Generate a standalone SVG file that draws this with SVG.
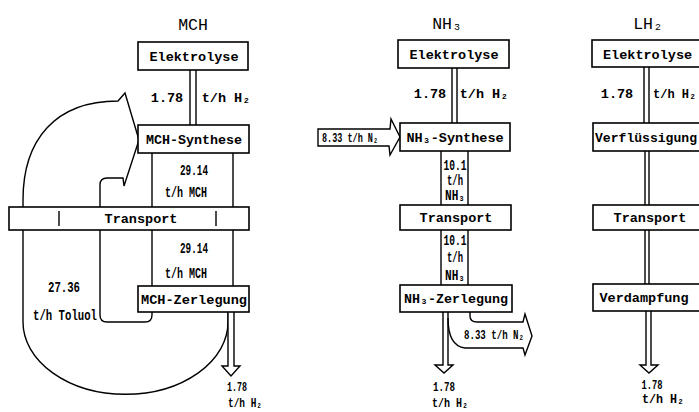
<svg xmlns="http://www.w3.org/2000/svg" width="699" height="412" viewBox="0 0 699 412">
<defs>
<style>
.box{fill:#fff;stroke:#000;stroke-width:1.6}
.ln{fill:none;stroke:#000;stroke-width:1.4}
.fl{fill:#fff;stroke:#000;stroke-width:1.4}
text{font-family:"Liberation Mono","DejaVu Sans Mono",monospace;fill:#000}
.t{font-size:13.5px;font-weight:bold;text-anchor:middle}
.ttl{font-size:16.5px;text-anchor:middle}
.s{font-size:14px;font-weight:bold;text-anchor:middle}
.b{font-size:12.5px;font-weight:bold;text-anchor:middle}
</style>
</defs>
<rect width="699" height="412" fill="#fff"/>
<g id="connectors">
  <!-- MCH -->
  <line class="ln" x1="190" y1="70" x2="190" y2="125"/>
  <line class="ln" x1="196" y1="70" x2="196" y2="125"/>
  <line class="ln" x1="152" y1="153" x2="152" y2="286"/>
  <line class="ln" x1="233" y1="153" x2="233" y2="286"/>
  <path class="ln" d="M228,312 L228,322 A102 72 0 0 1 23,322 L23,200 C23,140 55,101 118,101 L125,93 L139,140 L124,186 L123,178 L107,178 Q100,178 100,185 L100,315 Q100,322 107,322 L145,322 Q152,322 152,315 L152,312"/>
  <path class="fl" d="M228,312 L228,366 L222,366 L231,376 L240,366 L234,366 L234,312"/>
  <!-- NH3 -->
  <line class="ln" x1="452" y1="68" x2="452" y2="123"/>
  <line class="ln" x1="457" y1="68" x2="457" y2="123"/>
  <line class="ln" x1="441" y1="151" x2="441" y2="285"/>
  <line class="ln" x1="468" y1="151" x2="468" y2="285"/>
  <path class="fl" d="M318,129 L390,129 L391,119 L400,137 L390,155 L389,146 L318,146 Z"/>
  <path class="fl" d="M443,312 L443,365 L435,365 L444,373 L453,365 L448,365 L448,312"/>
  <path class="ln" d="M470,312 L470,316 Q470,322 477,322 L523,322 L525,314 L532,336 L525,355 L523,348 L465,348 Q448,346 448,318"/>
  <!-- LH2 -->
  <line class="ln" x1="644" y1="67" x2="644" y2="123"/>
  <line class="ln" x1="649" y1="67" x2="649" y2="123"/>
  <line class="ln" x1="645" y1="151" x2="645" y2="205"/>
  <line class="ln" x1="649" y1="151" x2="649" y2="205"/>
  <line class="ln" x1="645" y1="230" x2="645" y2="284"/>
  <line class="ln" x1="649" y1="230" x2="649" y2="284"/>
  <path class="fl" d="M646,311 L646,365 L640,365 L649,373 L658,365 L651,365 L651,311"/>
</g>
<g id="mch-title"><text class="ttl" x="193" y="30">MCH</text></g>
<g id="mch-elektrolyse">
  <rect class="box" x="138" y="42" width="110" height="28"/>
  <text class="t" x="194" y="61">Elektrolyse</text>
</g>
<g id="mch-synthese">
  <rect class="box" x="138" y="125" width="111" height="28"/>
  <text class="t" x="194" y="144" textLength="96" lengthAdjust="spacingAndGlyphs">MCH-Synthese</text>
</g>
<g id="mch-transport">
  <rect class="box" x="9" y="207" width="240" height="23"/>
  <line class="ln" x1="59" y1="211" x2="59" y2="226"/>
  <line class="ln" x1="216" y1="211" x2="216" y2="226"/>
  <text class="t" x="141" y="223">Transport</text>
</g>
<g id="mch-zerlegung">
  <rect class="box" x="138" y="286" width="111" height="26"/>
  <text class="t" x="194" y="304" textLength="106" lengthAdjust="spacingAndGlyphs">MCH-Zerlegung</text>
</g>
<g id="mch-labels">
  <text class="t" x="167" y="102">1.78</text>
  <text class="t" x="226" y="102">t/h H₂</text>
  <text class="s" x="194" y="175" textLength="28" lengthAdjust="spacingAndGlyphs">29.14</text>
  <text class="s" x="186" y="197" textLength="42" lengthAdjust="spacingAndGlyphs">t/h MCH</text>
  <text class="s" x="194" y="253" textLength="28" lengthAdjust="spacingAndGlyphs">29.14</text>
  <text class="s" x="186" y="278" textLength="42" lengthAdjust="spacingAndGlyphs">t/h MCH</text>
  <text class="s" x="64" y="292" textLength="32" lengthAdjust="spacingAndGlyphs">27.36</text>
  <text class="s" x="65" y="320" textLength="64" lengthAdjust="spacingAndGlyphs">t/h Toluol</text>
  <text class="b" x="237" y="391" textLength="20" lengthAdjust="spacingAndGlyphs">1.78</text>
  <text class="b" x="245" y="407" textLength="34" lengthAdjust="spacingAndGlyphs">t/h H₂</text>
</g>
<g id="nh3-title"><text class="ttl" x="447" y="29">NH₃</text></g>
<g id="nh3-elektrolyse">
  <rect class="box" x="398" y="40" width="111" height="28"/>
  <text class="t" x="454" y="59">Elektrolyse</text>
</g>
<g id="nh3-synthese">
  <rect class="box" x="400" y="123" width="110" height="28"/>
  <text class="t" x="455" y="142">NH₃-Synthese</text>
</g>
<g id="nh3-transport">
  <rect class="box" x="400" y="205" width="111" height="25"/>
  <text class="t" x="456" y="222">Transport</text>
</g>
<g id="nh3-zerlegung">
  <rect class="box" x="400" y="285" width="112" height="27"/>
  <text class="t" x="456" y="303" textLength="104" lengthAdjust="spacingAndGlyphs">NH₃-Zerlegung</text>
</g>
<g id="nh3-labels">
  <text class="t" x="430" y="98">1.78</text>
  <text class="t" x="484" y="98">t/h H₂</text>
  <text class="b" x="350" y="142" textLength="56" lengthAdjust="spacingAndGlyphs">8.33 t/h N₂</text>
  <text class="s" x="455" y="170" textLength="23" lengthAdjust="spacingAndGlyphs">10.1</text>
  <text class="s" x="455" y="185" textLength="16" lengthAdjust="spacingAndGlyphs">t/h</text>
  <text class="s" x="455" y="200" textLength="20" lengthAdjust="spacingAndGlyphs">NH₃</text>
  <text class="s" x="455" y="245" textLength="23" lengthAdjust="spacingAndGlyphs">10.1</text>
  <text class="s" x="455" y="262" textLength="16" lengthAdjust="spacingAndGlyphs">t/h</text>
  <text class="s" x="455" y="280" textLength="20" lengthAdjust="spacingAndGlyphs">NH₃</text>
  <text class="b" x="494" y="339" textLength="60" lengthAdjust="spacingAndGlyphs">8.33 t/h N₂</text>
  <text class="b" x="444" y="391" textLength="22" lengthAdjust="spacingAndGlyphs">1.78</text>
  <text class="b" x="450" y="407" textLength="36" lengthAdjust="spacingAndGlyphs">t/h H₂</text>
</g>
<g id="lh2-title"><text class="ttl" x="648" y="29">LH₂</text></g>
<g id="lh2-elektrolyse">
  <rect class="box" x="592" y="40" width="115" height="27"/>
  <text class="t" x="603" y="58.5" style="text-anchor:start">Elektrolyse</text>
</g>
<g id="lh2-verfluessigung">
  <rect class="box" x="593" y="123" width="115" height="28"/>
  <text class="t" x="595" y="141.5" style="text-anchor:start" textLength="102" lengthAdjust="spacingAndGlyphs">Verflüssigung</text>
</g>
<g id="lh2-transport">
  <rect class="box" x="593" y="205" width="115" height="25"/>
  <text class="t" x="650" y="222">Transport</text>
</g>
<g id="lh2-verdampfung">
  <rect class="box" x="593" y="284" width="115" height="27"/>
  <text class="t" x="644" y="302">Verdampfung</text>
</g>
<g id="lh2-labels">
  <text class="t" x="617" y="98">1.78</text>
  <text x="653" y="98" style="font-size:12px;font-weight:bold">t/h H₂</text>
  <text class="b" x="652" y="389" textLength="21" lengthAdjust="spacingAndGlyphs">1.78</text>
  <text class="b" x="663" y="403" textLength="42" lengthAdjust="spacingAndGlyphs">t/h H₂</text>
</g>
</svg>
